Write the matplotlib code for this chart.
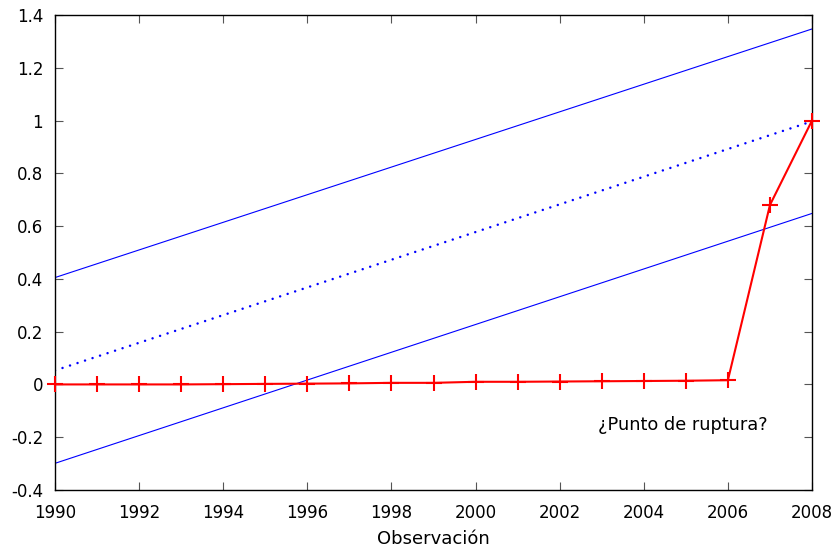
import matplotlib
matplotlib.use("Agg")
import matplotlib.pyplot as plt
import numpy as np
from matplotlib.ticker import FuncFormatter

# observed series (red)
years = list(range(1990, 2009))
observed = [0.0, 0.0, 0.0, 0.0, 0.001, 0.002, 0.003, 0.004, 0.006, 0.006,
            0.010, 0.010, 0.011, 0.012, 0.013, 0.014, 0.016, 0.68, 1.0]

# trend line and band (blue), given by end points
trend_x = [1990, 2008]
trend_mid = [0.053, 0.997]
trend_upper = [0.405, 1.347]
trend_lower = [-0.299, 0.648]

x_ticks = list(range(1990, 2009, 2))
y_ticks = [-0.4, -0.2, 0.0, 0.2, 0.4, 0.6, 0.8, 1.0, 1.2, 1.4]

fig = plt.figure(figsize=(8.36, 5.49), dpi=100)
ax = fig.add_axes([0.0658, 0.1075, 0.9055, 0.8652])

ax.plot(trend_x, trend_upper, color="blue", lw=0.8)
ax.plot(trend_x, trend_lower, color="blue", lw=0.8)
# dotted trend: small round dots ~8px apart
ax.plot(trend_x, trend_mid, color="blue", lw=1.8, linestyle=(0, (0.01, 3.15)),
        dash_capstyle="round")
ax.plot(years, observed, color="red", lw=1.5, marker="+", markersize=12,
        markeredgewidth=1.5, clip_on=False, zorder=5)

ax.text(2002.9, -0.152, "¿Punto de ruptura?", fontsize=12.8, ha="left", va="center")

ax.set_xlim(1990, 2008)
ax.set_ylim(-0.4, 1.4)
ax.set_xticks(x_ticks)
ax.set_yticks(y_ticks)
ax.yaxis.set_major_formatter(FuncFormatter(lambda v, p: ("%g" % round(v, 2))))
ax.tick_params(direction="in", length=6, width=0.8, color="#555555",
               top=True, right=True, labelsize=12)
ax.tick_params(axis="x", pad=10)
ax.tick_params(axis="y", pad=8.5)
ax.set_xlabel("Observación", fontsize=13, labelpad=6)
for s in ax.spines.values():
    s.set_linewidth(1.0)

fig.savefig("out.png", dpi=100)
